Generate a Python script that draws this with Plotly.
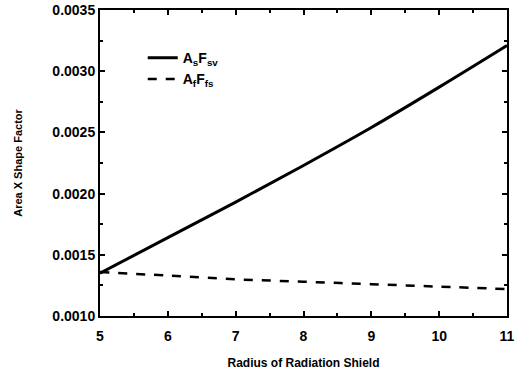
import plotly.graph_objects as go

radius = [5, 6, 7, 8, 9, 10, 11]
as_fsv = [0.00135, 0.00164, 0.00193, 0.00223, 0.00254, 0.00287, 0.00321]
af_ffs = [0.00136, 0.00133, 0.00130, 0.00128, 0.00126, 0.00124, 0.00122]

x_ticks = [5, 6, 7, 8, 9, 10, 11]
y_ticks = [0.0010, 0.0015, 0.0020, 0.0025, 0.0030, 0.0035]
y_tick_labels = ["0.0010", "0.0015", "0.0020", "0.0025", "0.0030", "0.0035"]

FONT = "Liberation Sans, Arial, sans-serif"

fig = go.Figure()
fig.add_trace(go.Scatter(x=radius, y=as_fsv, mode="lines",
                         line=dict(color="black", width=3, shape="spline"),
                         name="A<sub>s</sub>F<sub>sv</sub>"))
fig.add_trace(go.Scatter(x=radius, y=af_ffs, mode="lines",
                         line=dict(color="black", width=2.5, dash="dash", shape="spline"),
                         name="A<sub>f</sub>F<sub>fs</sub>"))

axis_common = dict(showline=True, linecolor="black", linewidth=2, mirror="allticks",
                   ticks="inside", ticklen=5, tickwidth=1.5, tickcolor="black",
                   showgrid=False, zeroline=False, automargin=False,
                   tickfont=dict(family=FONT, size=14, color="black", weight="bold"))

fig.update_xaxes(range=[5, 11], tickvals=x_ticks, ticklabelstandoff=6,
                 minor=dict(ticks="inside", ticklen=3, tickcolor="black", dtick=0.5, showgrid=False),
                 title=dict(text="Radius of Radiation Shield", standoff=16,
                            font=dict(family=FONT, size=12, color="black", weight="bold")),
                 **axis_common)
fig.update_yaxes(range=[0.0010, 0.0035], tickvals=y_ticks, ticktext=y_tick_labels,
                 minor=dict(ticks="inside", ticklen=3, tickcolor="black", dtick=0.00025, showgrid=False),
                 title=dict(text="Area X Shape Factor", standoff=28,
                            font=dict(family=FONT, size=11, color="black", weight="bold")),
                 **axis_common)

fig.update_layout(width=525, height=370, margin=dict(l=100, r=18, t=10, b=54),
                  plot_bgcolor="white", paper_bgcolor="white",
                  legend=dict(x=0.105, y=0.895, xanchor="left", yanchor="top",
                              bgcolor="rgba(0,0,0,0)", tracegroupgap=0,
                              font=dict(family=FONT, size=14, color="black", weight="bold")),
                  showlegend=True)

fig.write_html("out.html")
